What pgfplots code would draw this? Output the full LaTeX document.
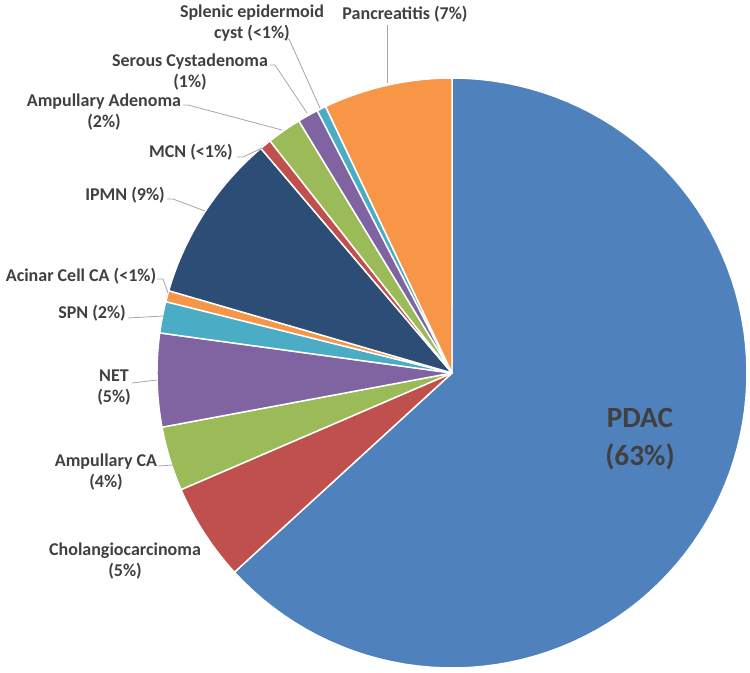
\documentclass[border=0pt]{standalone}
\usepackage{pgfplots}
\pgfplotsset{compat=1.18}
\usepackage{fontspec}
\setmainfont{Carlito}
\definecolor{cPDAC}{HTML}{4F81BD}
\definecolor{cRed}{HTML}{C0504D}
\definecolor{cGreen}{HTML}{9BBB59}
\definecolor{cPurple}{HTML}{8064A2}
\definecolor{cAqua}{HTML}{4BACC6}
\definecolor{cOrange}{HTML}{F79646}
\definecolor{cNavy}{HTML}{2C4D75}
\definecolor{txt}{HTML}{404040}
\definecolor{lead}{HTML}{A6A6A6}
\tikzset{lbl/.style={text=txt, font=\fontsize{13.5}{15.75}\selectfont\bfseries, align=center, inner sep=0pt},
         ld/.style={lead, line width=0.6pt}}
% cumulative share, slices drawn clockwise from 12 o'clock
\def\cum{0}
\newcommand\slice[2]{%
  \pgfmathsetmacro\sa{90-3.6*\cum}%
  \pgfmathsetmacro\sb{90-3.6*(\cum+#1)}%
  \pgfmathsetmacro\newcum{\cum+#1}\xdef\cum{\newcum}%
  \edef\temp{\noexpand\addplot[fill=#2, draw=white, line width=1.1pt, line join=round, domain=\sb:\sa, samples=90]
    ({452+295*cos(x)},{373-295*sin(x)}) -- (452,373) -- cycle;}%
  \temp}
\begin{document}
\begin{tikzpicture}
\begin{axis}[
  width=562.5pt, height=504pt, scale only axis,
  xmin=0, xmax=750, ymin=0, ymax=672, y dir=reverse,
  hide axis, clip=false,
]
\path (axis cs:0,0) rectangle (axis cs:750,672);
% shares in percent
\slice{63.20}{cPDAC}   % PDAC
\slice{5.33}{cRed}     % Cholangiocarcinoma
\slice{3.53}{cGreen}   % Ampullary CA
\slice{5.11}{cPurple}  % NET
\slice{1.72}{cAqua}    % SPN
\slice{0.61}{cOrange}  % Acinar Cell CA
\slice{9.28}{cNavy}    % IPMN
\slice{0.64}{cRed}     % MCN
\slice{1.89}{cGreen}   % Ampullary Adenoma
\slice{1.14}{cPurple}  % Serous Cystadenoma
\slice{0.50}{cAqua}    % Splenic epidermoid cyst
\slice{7.05}{cOrange}  % Pancreatitis
% leader lines
\draw[ld] (387,25) -- (387,83);
\draw[ld] (283,39) -- (289,39) -- (320,108);
\draw[ld] (270,65) -- (275,65) -- (307,113);
\draw[ld] (183,105) -- (188,105) -- (282,130);
\draw[ld] (237,157) -- (243,157) -- (262,148);
\draw[ld] (167,199) -- (173,199) -- (205,211);
\draw[ld] (157,279) -- (163,279) -- (168,293);
\draw[ld] (128,318) -- (163,316);
\draw[ld] (132,383) -- (157,380);
\draw[ld] (158,466) -- (173,465);
% labels
\node[lbl] at (405,14) {Pancreatitis (7\%)};
\node[lbl] at (252,23) {Splenic epidermoid\\cyst (<1\%)};
\node[lbl] at (190,72.5) {Serous Cystadenoma\\(1\%)};
\node[lbl] at (104,112) {Ampullary Adenoma\\(2\%)};
\node[lbl] at (191,152) {MCN (<1\%)};
\node[lbl] at (125,195) {IPMN (9\%)};
\node[lbl] at (81,276) {Acinar Cell CA (<1\%)};
\node[lbl] at (92,313) {SPN (2\%)};
\node[lbl] at (114,388) {NET\\(5\%)};
\node[lbl] at (106,472) {Ampullary CA\\(4\%)};
\node[lbl] at (125,561.5) {Cholangiocarcinoma\\(5\%)};
\node[lbl, font=\fontsize{22}{28.5}\selectfont\bfseries] at (640,439) {PDAC\\(63\%)};
\end{axis}
\end{tikzpicture}
\end{document}
